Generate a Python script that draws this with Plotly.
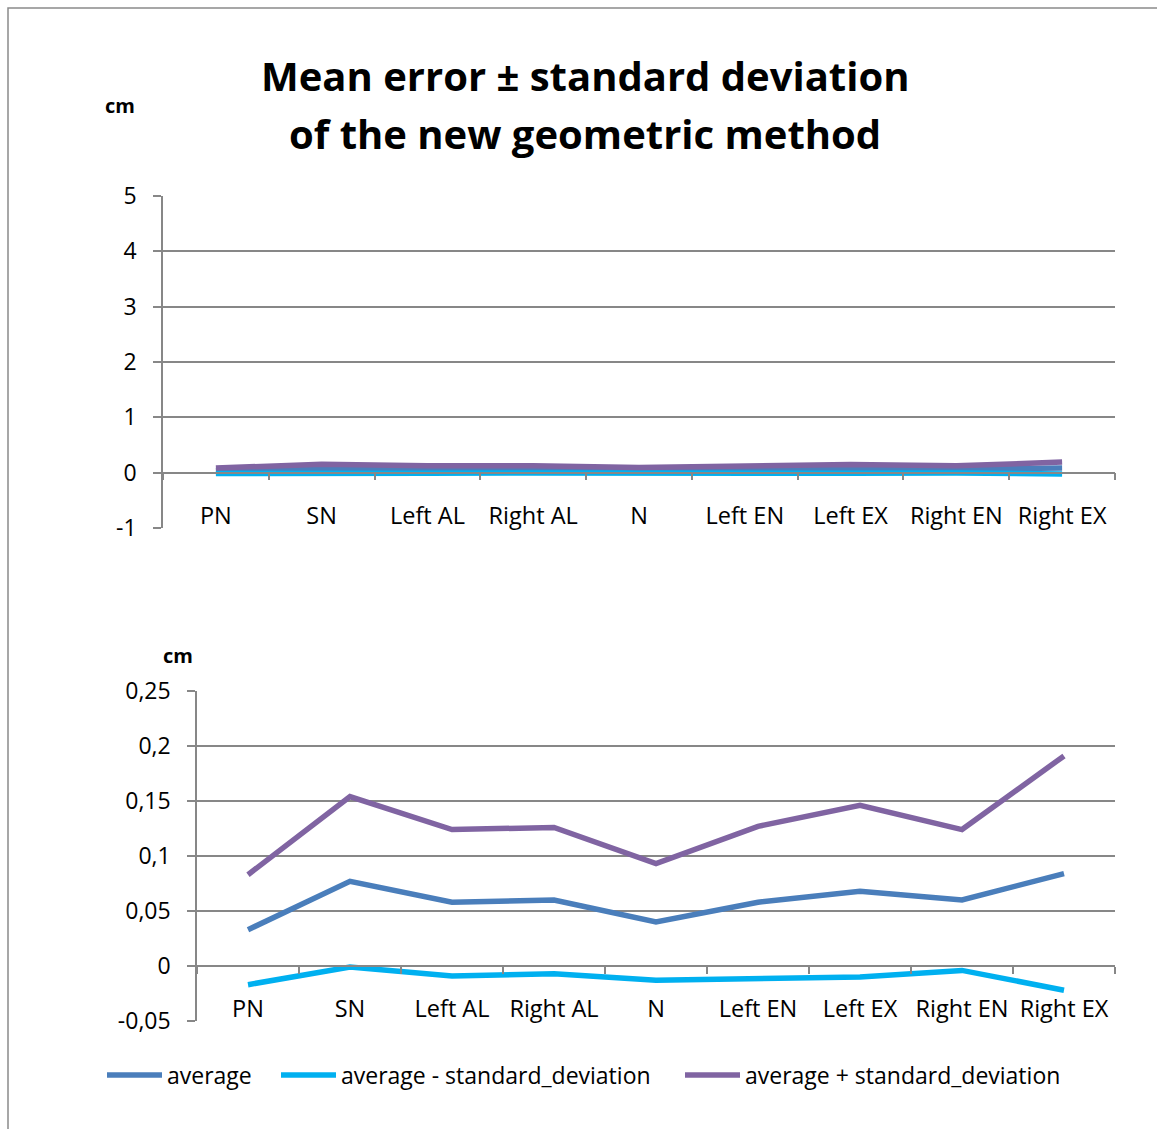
import plotly.graph_objects as go

# Landmarks along the horizontal axis
landmarks = ["PN", "SN", "Left AL", "Right AL", "N", "Left EN", "Left EX", "Right EN", "Right EX"]

# Mean error and the ±1 SD band (cm)
average = [0.033, 0.077, 0.058, 0.060, 0.040, 0.058, 0.068, 0.060, 0.084]
average_minus_sd = [-0.017, -0.001, -0.009, -0.007, -0.013, -0.011, -0.010, -0.004, -0.022]
average_plus_sd = [0.083, 0.154, 0.124, 0.126, 0.093, 0.127, 0.146, 0.124, 0.191]

# Tick labels of the two value axes
top_ticks = [-1, 0, 1, 2, 3, 4, 5]
top_tick_text = ["-1", "0", "1", "2", "3", "4", "5"]
bottom_ticks = [-0.05, 0, 0.05, 0.1, 0.15, 0.2, 0.25]
bottom_tick_text = ["-0,05", "0", "0,05", "0,1", "0,15", "0,2", "0,25"]

# Chart title, one entry per line
title_lines = ["Mean error ± standard deviation", "of the new geometric method"]

series = [
    ("average", average, "#4A7EBB"),
    ("average - standard_deviation", average_minus_sd, "#00B0F0"),
    ("average + standard_deviation", average_plus_sd, "#8064A2"),
]

W, H = 1157, 1129
FONT = "Open Sans"
GRID = "#878787"


def px_x(x):
    return x / W


def px_y(y):
    return 1 - y / H


# one legend box per series, laid out left to right under the lower chart
legend_names = ["legend", "legend2", "legend3"]
legend_left_px = [102, 276, 680]

fig = go.Figure()
for name, values, color in series:
    fig.add_trace(go.Scatter(x=landmarks, y=values, mode="lines", name=name,
                             line=dict(color=color, width=5.5), showlegend=False,
                             xaxis="x", yaxis="y"))
for (name, values, color), lg in zip(series, legend_names):
    fig.add_trace(go.Scatter(x=landmarks, y=values, mode="lines", name=name,
                             line=dict(color=color, width=5.5), showlegend=True,
                             legend=lg, xaxis="x2", yaxis="y2"))

# Pixel geometry of the two plot areas
top_l, top_r, top_t, top_b = 163, 1115, 196, 528
bot_l, bot_r, bot_t, bot_b = 197, 1115, 691, 1021
top_zero = top_t + (top_b - top_t) * 5 / 6
bot_zero = bot_t + (bot_b - bot_t) * 0.25 / 0.30

xaxis_common = dict(type="category", showgrid=False, showline=True, linecolor=GRID,
                    linewidth=1.5, ticks="outside", tickson="boundaries", ticklen=7,
                    tickcolor=GRID, tickwidth=1.5, tickangle=0,
                    tickfont=dict(family=FONT, size=23.5, color="#000"),
                    ticklabelstandoff=22, range=[-0.5, 8.5], fixedrange=True)
yaxis_common = dict(showgrid=True, gridcolor=GRID, gridwidth=1.5, zeroline=False,
                    showline=True, linecolor=GRID, linewidth=1.5, ticks="outside",
                    ticklen=8, tickcolor=GRID, tickwidth=1.5, ticklabelstandoff=12,
                    tickfont=dict(family=FONT, size=23, color="#000"), fixedrange=True)

legend_common = dict(orientation="h", xanchor="left", y=px_y(1075), yanchor="middle",
                     font=dict(family=FONT, size=23, color="#000"), bgcolor="rgba(0,0,0,0)",
                     itemwidth=55)

layout_legends = {lg: dict(x=px_x(lx), **legend_common)
                  for lg, lx in zip(legend_names, legend_left_px)}

title_annotations = [
    dict(text=f"<b>{line}</b>", xref="paper", yref="paper", x=px_x(585), y=px_y(cy),
         xanchor="center", yanchor="middle", showarrow=False,
         font=dict(family=FONT, size=40, color="#000"))
    for line, cy in zip(title_lines, [76, 134])
]

fig.update_layout(
    width=W, height=H,
    margin=dict(l=0, r=0, t=0, b=0, autoexpand=False),
    paper_bgcolor="white", plot_bgcolor="white",
    xaxis=dict(domain=[px_x(top_l), px_x(top_r)], anchor="free",
               position=px_y(top_zero), **xaxis_common),
    yaxis=dict(domain=[px_y(top_b), px_y(top_t)], anchor="x", range=[-1, 5],
               tickvals=top_ticks, ticktext=top_tick_text, **yaxis_common),
    xaxis2=dict(domain=[px_x(bot_l), px_x(bot_r)], anchor="free",
                position=px_y(bot_zero), **xaxis_common),
    yaxis2=dict(domain=[px_y(bot_b), px_y(bot_t)], anchor="x2", range=[-0.05, 0.25],
                tickvals=bottom_ticks, ticktext=bottom_tick_text, **yaxis_common),
    showlegend=True,
    shapes=[dict(type="rect", xref="paper", yref="paper", x0=px_x(8), x1=1.02,
                 y0=-0.02, y1=px_y(8), line=dict(color="#8a8a8a", width=1.5))],
    annotations=title_annotations + [
        dict(text="<b>cm</b>", xref="paper", yref="paper", x=px_x(120), y=px_y(106),
             xanchor="center", yanchor="middle", showarrow=False,
             font=dict(family=FONT, size=20, color="#000")),
        dict(text="<b>cm</b>", xref="paper", yref="paper", x=px_x(178), y=px_y(655),
             xanchor="center", yanchor="middle", showarrow=False,
             font=dict(family=FONT, size=20, color="#000")),
    ],
    **layout_legends,
)

fig.write_html("out.html")
